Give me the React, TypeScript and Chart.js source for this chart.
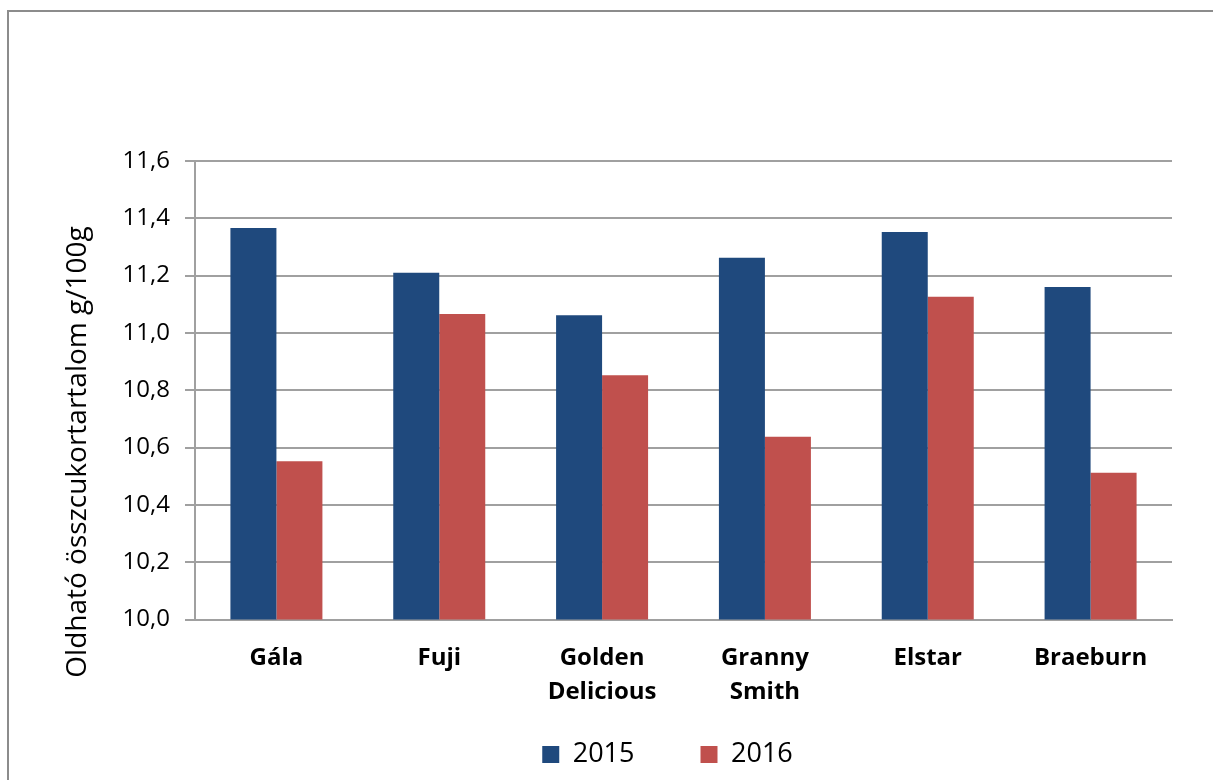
import React, { useEffect, useRef } from "react";
import { Chart, registerables } from "chart.js";

Chart.register(...registerables);

const categories: (string | string[])[] = ["Gála", "Fuji", ["Golden", "Delicious"], ["Granny", "Smith"], "Elstar", "Braeburn"];
const series2015 = [11.366, 11.21, 11.062, 11.262, 11.352, 11.16];
const series2016 = [10.552, 11.066, 10.852, 10.638, 11.126, 10.512];
const seriesLabels = ["2015", "2016"];
const yTitle = "Oldható összcukortartalom g/100g";

const FONT = "'Open Sans', 'Noto Sans', sans-serif";

const framePlugin = {
  id: "frame",
  afterLayout(chart: any) {
    // let multi-line / wide tick labels extend beyond the axis boxes
    Object.values(chart.scales).forEach((s: any) => {
      s._computeLabelArea = () => undefined;
    });
  },
  beforeDraw(chart: any) {
    const ctx = chart.ctx;
    ctx.save();
    ctx.fillStyle = "#ffffff";
    ctx.fillRect(0, 0, chart.width, chart.height);
    ctx.strokeStyle = "#8c8c8c";
    ctx.lineWidth = 2;
    ctx.strokeRect(8, 11, chart.width + 20, chart.height + 20);
    ctx.restore();
  },
  afterDraw(chart: any) {
    const ctx = chart.ctx;
    ctx.save();
    ctx.translate(78, 452);
    ctx.rotate(-Math.PI / 2);
    ctx.font = `28px ${FONT}`;
    ctx.fillStyle = "#000000";
    ctx.textAlign = "center";
    ctx.textBaseline = "middle";
    ctx.fillText(yTitle, 0, 0);
    ctx.restore();
  },
};

export default function App() {
  const ref = useRef<HTMLCanvasElement | null>(null);
  useEffect(() => {
    if (!ref.current) return;
    const chart = new Chart(ref.current, {
      type: "bar",
      data: {
        labels: categories,
        datasets: [
          { label: seriesLabels[0], data: series2015, backgroundColor: "#1F497D", borderWidth: 0 },
          { label: seriesLabels[1], data: series2016, backgroundColor: "#C0504D", borderWidth: 0 },
        ],
      },
      plugins: [framePlugin],
      options: {
        animation: false,
        responsive: false,
        maintainAspectRatio: false,
        layout: { padding: { top: 161, left: 163, right: 41, bottom: 2 } },
        datasets: { bar: { categoryPercentage: 0.565, barPercentage: 1.0 } },
        plugins: {
          tooltip: { enabled: false },
          legend: {
            position: "bottom",
            labels: {
              boxWidth: 17,
              boxHeight: 17,
              padding: 66,
              color: "#000000",
              font: { family: FONT, size: 27 },
            },
          },
        },
        scales: {
          x: {
            afterFit(scale: any) { scale.height = 55.5; },
            grid: { display: false, drawTicks: false },
            border: { display: true, color: "#a0a0a0", width: 2 },
            ticks: {
              color: "#000000",
              padding: 22,
              maxRotation: 0,
              autoSkip: false,
              font: { family: FONT, size: 24, weight: "bold", lineHeight: 1.42 },
            },
          },
          y: {
            min: 10.0,
            max: 11.6,
            afterFit(scale: any) { scale.width = 32; },
            grid: { color: "#a0a0a0", lineWidth: 2, tickLength: 10, drawTicks: true },
            border: { display: true, color: "#a0a0a0", width: 2 },
            ticks: {
              stepSize: 0.2,
              color: "#000000",
              padding: 15,
              font: { family: FONT, size: 24 },
              callback: (v: any) => Number(v).toFixed(1).replace(".", ","),
            },
          },
        },
      },
    });
    return () => chart.destroy();
  }, []);
  return (
    <div style={{ position: "absolute", left: 0, top: 0, width: 1213, height: 780 }}>
      <canvas ref={ref} width={1213} height={780} style={{ width: 1213, height: 780 }} />
    </div>
  );
}
